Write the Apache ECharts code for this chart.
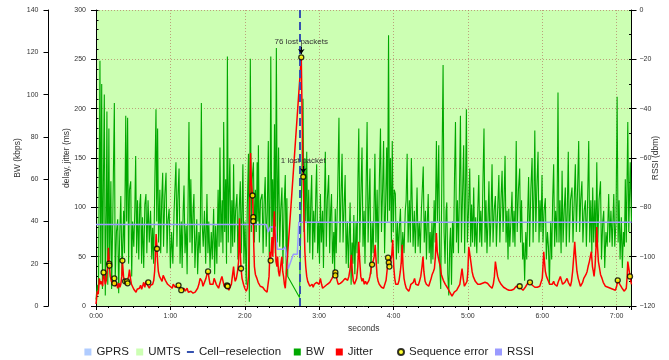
<!DOCTYPE html>
<html><head><meta charset="utf-8">
<script src="https://cdn.jsdelivr.net/npm/echarts@6/dist/echarts.min.js"></script>
<style>html,body{margin:0;padding:0;background:#fff}#c{width:669px;height:360px}</style>
</head><body><div id="c"></div>
<script>
// time in seconds, BW in kbps
const bw = [[0,3],[1,10],[2,6],[3.2,116],[3.8,20],[4.6,105],[5.2,8],[6,60],[6.7,100],[7.5,5],[8.3,45],[8.8,92],[9.5,10],[10.4,84],[11,22],[12,59],[12.6,8],[13.5,40],[14.8,96],[15.5,12],[16.5,35],[17.5,41],[18.3,6],[19,30],[20,52],[21,15],[22.3,45],[23,25],[24,90],[24.7,40],[25.5,89],[26.3,20],[27,55],[28,59],[28.8,14],[29.5,40],[30.5,28],[31.3,45],[32,71],[32.8,25],[33.5,50],[34.5,22],[35.3,48],[36,53],[36.8,20],[37.5,42],[38.5,18],[39.4,48],[40.3,53],[41,25],[42,50],[43,30],[44,45],[45,22],[45.7,37],[46.5,20],[47.5,60],[48.4,93],[49,40],[49.7,84],[50.5,30],[51.5,55],[52.2,25],[53,50],[53.8,63],[54.5,28],[55.5,52],[56.5,63],[57.3,25],[58,40],[59,46],[60,18],[61,35],[62,20],[63,45],[64.5,68],[65.3,28],[66,50],[67,65],[67.8,20],[68.8,40],[69.5,18],[70.3,45],[71,57],[71.8,25],[72.8,38],[73.5,15],[74.3,50],[75,87],[75.8,30],[76.5,60],[77.5,25],[78.3,45],[79,53],[79.8,18],[80.5,30],[81.3,41],[82,15],[83,35],[84,25],[85,96],[85.6,40],
[86.5,28],[87.5,45],[88.5,20],[89.5,53],[90.3,25],[91,40],[92,18],[93,35],[93.8,22],[94.9,46],[95.7,15],[96.5,38],[97.5,20],[98.5,55],[99.3,28],[100,75],[100.8,30],[101.8,50],[102.4,25],[103,87],[103.8,35],[104.6,60],[105.3,20],[106,118],[106.7,30],[107.4,55],[108,70],[108.8,25],[109.6,50],[110.3,28],[111,67],[111.8,30],[112.6,45],[113.7,53],[114.5,22],[115.5,45],[116.4,59],[117.2,25],[118,50],[118.5,67],[119.3,20],[120.2,40],[121.2,10],[122,45],[123,72],[123.7,2],[124.5,117],[125.3,35],[126,60],[127,68],[127.8,30],[128.6,55],[129.3,35],[130,68],[130.6,40],[131,76],[131.8,30],[132.7,50],[134,53],[134.8,25],[135.6,48],[136.5,61],[137.3,28],[138.2,45],[139,78],[139.8,20],[140.5,55],[141,118],[141.8,35],[142.5,60],[143.2,30],[144,86],[144.7,25],[145.5,122],[146.3,30],[147.3,75],[148.2,28],[149,45],[150,56],[150.8,20],[151.8,48],[152.7,62],[153.5,15],[154,51],[154.7,14],[164.2,4],
[165,30],[166,60],[167,98],[167.8,35],[168.5,70],[169.2,40],[170,73],[170.8,30],[171.6,55],[172.5,25],[173.3,50],[174,62],[174.8,22],[175.6,45],[176.5,30],[177.4,55],[178,67],[178.8,25],[179.6,40],[180.3,20],[181,53],[181.8,30],[182.8,45],[183.5,18],[184.3,50],[185,73],[185.8,28],[186.6,50],[187.7,62],[188.5,25],[189.3,45],[190,53],[190.8,20],[191.8,35],[192.5,15],[193,46],[193.8,25],[195,55],[196,89],[196.8,30],[197.6,50],[198.5,72],[199.3,30],[200.2,48],[201,62],[201.8,20],[202.8,40],[203.6,18],[204.4,35],[205,49],[205.8,10],[206.6,30],[207.3,20],[208,43],[208.8,15],[209.8,40],[210.6,25],[211.3,60],[212,84],[212.8,30],[213.6,50],[214.6,75],[215.4,28],[216.3,45],[217,20],[218,60],[218.7,87],[219.5,30],[220.3,50],[221,65],[221.8,15],[222.8,40],[223.6,25],[224.4,50],[225,72],[225.8,30],[226.8,55],[227.6,20],[228.6,60],[229.5,84],[230.3,35],[231.2,55],[232,78],[232.8,25],[233.7,50],[234.5,75],[235.2,40],[236,128],[236.7,45],[237.5,70],[238.3,30],[239,78],[239.8,35],[240.6,55],[241.5,53],[242.3,22],[243.2,40],[244,25],[245,40],[245.6,46],[246.5,20],[247.5,35],[248.5,25],[249.5,45],[250.2,50],[251,72],[251.8,30],[252.8,50],[253.6,30],[254.4,70],
[255.8,28],[256.8,45],[257.6,25],[258.3,40],[259,56],[259.8,28],[260.8,40],[261.6,25],[262.5,45],[264,66],[264.8,30],[265.8,45],[266.6,22],[267.3,40],[268,53],[268.8,25],[269.6,35],[270.3,20],[271,40],[271.8,22],[272.8,50],[273.6,30],[274.6,78],[275.4,40],[276.5,76],[277.3,20],[278.1,8],[279,60],[280,114],[280.8,35],[281.6,20],[282.4,45],[283,49],[283.8,15],[284.6,5],[285.4,30],[286,37],[286.8,10],[287.6,40],[288.4,25],[289.2,60],[290,87],[290.8,30],[291.6,50],[292.4,25],[293.2,55],[294,90],[294.8,30],[295.6,50],[296.6,76],[297.4,25],[298.2,60],[298.8,93],[299.6,30],[300.5,45],[301.5,65],[302.3,28],[303,48],[303.8,30],[304.7,56],[305.5,28],[306.3,42],[307.2,25],[308,45],[308.8,62],[309.6,30],[310.4,45],[311.2,28],[312.2,60],[313,84],[313.8,30],[314.6,50],[315.4,25],[316.2,40],[317,59],[317.8,28],[318.6,40],[319.5,67],[320.3,30],[321.2,45],[322.2,52],[323,28],[324,45],[325,62],[325.8,30],[326.7,50],[327.6,64],[328.4,35],[329.2,50],[330,71],[330.8,30],[331.6,45],[332.4,22],[333,46],[333.8,28],[334.7,40],[335.6,54],[336.4,30],[337.2,45],[338,28],[339,78],[339.8,35],[340.8,55],[341.8,65],
[342.5,30],[343.3,50],[344.2,22],[345,30],[345.8,12],[346.7,35],[347.5,22],[348.3,45],[349,61],[349.8,28],[350.8,55],[351.8,70],[352.6,30],[353.4,55],[354,83],[354.8,35],[355.6,55],[356.6,73],[357.4,30],[358.2,50],[359,35],[359.8,62],[360.6,30],[361.5,45],[362.5,51],[363.3,22],[364.2,35],[365,28],[365.8,10],[366.8,40],[367.6,22],[368.4,50],[369.2,67],[370,28],[370.8,45],[371.8,30],[372.7,101],[373.5,30],[374.3,50],[375.2,25],[376,64],[376.8,30],[377.7,45],[378.6,56],[379.4,28],[380.2,45],[381,73],[381.8,30],[382.8,50],[384,56],[384.8,30],[385.8,50],[386.7,67],[387.5,35],[388.5,55],[389.4,78],[390.2,35],[391,50],[392,59],[392.8,30],[393.8,45],[394.8,50],[395.6,28],[396.6,50],[397.5,78],[398.3,30],[399.2,50],[400,25],[400.7,56],[401.5,30],[402.4,50],[403.2,28],[404,68],[404.8,30],[405.8,50],[407,59],[407.8,22],[408.8,40],[409.6,45],[410.4,18],[411.4,35],[412.4,28],[413.6,53],[414.4,30],[415.4,45],[416.4,28],[417.7,53],[418.5,28],[419.5,40],[420.4,99],[421.2,30],[422,50],[422.8,22],[423.8,42],[424.6,18],[425.5,35],[426.3,28],[427,60],[427.8,30],[429,87],[429.8,35],[431,68],[432,40]];

// time in seconds, jitter in ms
const jitter = [[0,2],[0.5,8],[1,15],[1.8,12],[2.7,28],[3.5,22],[4.3,25],[5.4,20],[5.9,33],[6.7,30],[7.5,22],[8.3,26],[9.4,40],[10,59],[10.7,43],[11.5,30],[12.4,25],[13.4,22],[14.2,26],[14.8,28],[15.6,20],[16.5,24],[17.5,18],[18.5,23],[19.3,19],[20,22],[20.8,30],[21.3,46],[22.2,30],[23,25],[23.5,26],[24.5,21],[25.3,26],[26.3,30],[27,37],[27.8,28],[28.6,22],[29.6,20],[30.5,17],[31.4,19],[32.3,14],[33.2,17],[34,15],[35,18],[36,21],[36.8,17],[37.6,20],[38.5,24],[39.4,19],[40.3,25],[41.2,22],[42.2,24],[43,18],[44,21],[45,19],[45.7,22],[46.6,26],[47.3,35],[47.9,50],[48.5,73],[49.2,58],[49.7,45],[50.3,35],[51.2,30],[52.4,28],[53.3,25],[54.2,31],[55,30],[56,26],[57,28],[57.8,22],[58.8,24],[59.7,20],[60.5,20],[61.5,18],[62.3,22],[63,22],[64,19],[65,21],[66,20],[66.6,21],[67.8,19],[68.8,16],[70,16],[71,18],[72,15],[72.6,16],[73.5,18],[74.5,14],[75.5,16],[76.6,15],[77.5,17],[78.3,13],[79,12],[80,14],[81,16],[82,18],[83,22],[84,28],[84.7,28],[85.5,25],[86.3,20],[86.8,18],[87.8,22],[88.7,28],[89.5,32],[90.4,35],[91.2,28],[92,22],[93,24],[93.5,20],[94.4,22],[95.3,28],[96.2,25],[97,22],[98,20],[98.9,18],[99.7,22],[100.6,26],[101.6,30],[102.5,25],[103.4,20],[104.3,22],[105.2,18],[105.7,21],[106.2,20],[107.2,16],[108.3,18],[109.2,22],[110,30],[111,40],[111.6,30],[112.3,25],[113.2,28],[114.2,35],[115,45],[115.8,89],[116.4,55],[117,38],[117.8,28],[119,22],[120,18],[121.2,15],[122.1,18],[123,30],[123.5,60],[124.2,120],[124.7,155],[125.3,125],[126.3,112],[126.9,88],[127.3,60],[127.8,40],[128.6,32],[129.8,28],[130.8,24],[131.8,22],[132.5,20],[133.5,18],[134.5,19],[135.2,18],[136.2,16],[137.1,15],[138,14],[138.8,16],[139.6,30],[140.3,55],[140.9,46],[141.5,60],[142,70],[142.6,50],[143.3,75],[143.9,96],[144.5,70],[145.2,45],[146,40],[146.5,50],[147.2,35],[148,30],[148.7,28],[149.4,45],[150,50],[150.6,35],[151.3,30],[152,22],[152.7,18],[153.3,20],[165.6,252],[166.2,200],[166.8,150],[167.2,131],[167.8,90],[168.5,55],[169.2,40],[170,30],[170.8,25],[171.6,25],
[172.5,20],[173.4,18],[174.3,22],[175.2,19],[176.1,22],[177,20],[178,24],[179,26],[180,22],[181,28],[182,22],[182.8,18],[183.7,17],[184.7,20],[185.6,19],[186.6,22],[187.7,20],[188.6,24],[189.5,22],[190.4,28],[191.3,30],[192,32],[192.8,36],[193.1,34],[193.6,31],[194.5,26],[195.4,22],[196.2,20],[197.1,23],[198,21],[199,25],[200,25],[201,28],[202,30],[203,26],[204,30],[205,38],[206,52],[206.8,35],[207.6,25],[208.5,22],[209.4,24],[210.3,28],[211.2,40],[212,65],[212.8,45],[213.6,30],[214.6,25],[215.5,28],[216.4,22],[217.4,25],[218.4,22],[219.3,24],[220.2,26],[221,30],[222,38],[222.7,42],[223.5,45],[224.4,50],[225.2,62],[226,45],[226.8,30],[227.6,25],[228.5,22],[229.4,20],[230.3,19],[231.2,18],[232,18],[233,22],[234,26],[235,38],[235.6,49],[236.2,44],[236.7,40],[237.5,40],[238.5,50],[239.4,67],[240.2,40],[241,28],[241.8,22],[242.7,20],[243.6,22],[244.5,26],[245.5,35],[246.3,45],[247,62],[247.7,40],[248.5,28],[249.4,22],[250.3,18],[251.3,16],[252.3,15],[253.2,18],[254,22],[255,22],[256,24],[257,28],[258,22],[259,20],[260,21],[261,25],[262,30],[263,40],[263.8,50],[264.5,35],[265.5,25],[266.5,22],[267.5,20],[268.4,20],[269.4,24],[270.4,28],[271.2,32],[272.2,35],[273,38],[273.8,50],[274.6,74],[275.3,55],[276,50],[276.8,45],[277.8,40],[278.6,32],[279.2,30],[280.2,26],[281,24],[281.8,22],[282.8,20],[283.8,18],[284.5,18],[285.4,14],[286.3,12],[287.2,10],[288.1,12],[289,14],[290,15],[291,16],[292,18],[292.6,18],[293.5,22],[294.4,30],[295.3,38],[296.2,28],[297.2,20],[298.2,22],[299.3,25],[300,35],[300.7,60],[301.3,55],[302,55],[302.7,42],[303.4,35],[304.3,30],[305.2,28],[306,25],[307,24],[308,22],[308.8,20],[309.8,22],[310.8,24],[311.8,23],[312.8,25],[313.8,24],[314.8,22],[315.8,23],[316.8,22],[317.8,20],[318.6,19],[319.5,18],[320.5,22],[321.4,30],[322.2,45],[323,38],[324,30],[325,26],[326,24],[326.8,22],[327.8,20],[328.8,19],[329.7,18],[330.3,18],[331.3,17],[332.3,18],[333.2,16],[334,17],[335,16],[336,18],[337,17],[338,18],[339,20],[339.7,18],[340.7,19],[341.8,20],[342.7,18],[343.6,17],[344.5,16],[345.4,17],[346.3,19],[347.2,21],[348.2,23],[349.2,22],[350.1,24],[351,22],[352,21],[353,20],[354,19],[355,18],[356,19],[357,18],[358,20],[359,22],[360,28],[360.6,40],[361.2,55],[361.8,45],[362.5,35],[363.4,30],[364.2,28],[365,25],[366,22],[367,24],[368,22],[369.2,25],[370,22],[371,20],[371.9,20],[372.8,24],[373.7,26],[374.6,30],[375.5,26],[376.4,22],[377.3,20],[378.2,24],[379.1,26],[380,28],[381,24],[382,22],[382.7,20],[383.6,25],[384.5,35],[385.4,50],[386.2,65],[387,50],[388,35],[389,28],[389.9,24],[390.8,20],[391.7,22],[392.6,24],[393.5,28],[394.4,30],[395.3,32],[396.2,35],[397,40],[398,45],[398.8,50],[399.6,55],[400.5,40],[401.2,35],[401.8,30],[402.6,40],[403.4,60],[404,80],[404.6,60],[405.3,45],[406,40],[407,32],[408.2,28],[409.2,24],[410.2,22],[411,20],[412,21],[413,19],[414,20],[415,18],[416,19],[417,17],[418,18],[419,16],[420,20],[420.9,26],[421.7,28],[422.6,22],[423.5,20],[424.4,18],[425.3,16],[426.2,15],[427,14],[427.8,18],[428.5,30],[429,45],[429.6,40],[430.2,35],[430.8,30],[431.5,25],[432,22]];

// time in seconds, RSSI in dBm
const rssi = [[0,-87],[137.4,-87],[139,-90],[140.6,-88],[144.6,-88],[146.2,-97],[151,-97],[152.7,-96],[155,-105],[159.2,-99],[162.4,-99],[163.6,-86],[432,-86]];

// sequence errors: time in seconds, jitter in ms
const seqErr = [[6.1,34],[10.6,43],[10.8,41],[14.8,28],[14.8,23],[21.3,46],[23.5,25],[25,25],[25.5,23],[42.2,24],[49.2,58],[66.6,21],[68.8,16],[90.4,35],[105.7,21],[106.2,20],[117,38],[126.3,112],[126.9,90],[126.9,86],[140.9,46],[165.6,252],[167.2,131],[193.1,34],[193.1,31],[222.7,42],[235.6,49],[236.2,44],[236.7,40],[341.8,20],[350.1,24],[420.9,26],[430.8,30]];

const cellReselection = [164];
const umtsSpan = [0, 432];
const lostAnnotations = [{t:165.6, from:263, to:255.5, text:'76 lost packets'},{t:167.2, from:142, to:134.5, text:'1 lost packet'}];

const FONT = 'Liberation Sans';
const txt = '#222';
const gridCol = 'rgba(175,100,85,0.6)';
const chart = echarts.init(document.getElementById('c'), null, {renderer:'canvas'});

function legendAt(name, left, icon, w, h) {
  const d = {name};
  if (icon) d.icon = icon;
  return {data:[d], left, top:346, itemWidth:w || 7, itemHeight:h || 7, itemGap:0, padding:0,
    textStyle:{fontFamily:FONT, fontSize:11.5, color:txt}, selectedMode:false};
}

const option = {
  animation:false,
  backgroundColor:'#fff',
  textStyle:{fontFamily:FONT},
  legend:[
    legendAt('GPRS', 84.4, 'rect'),
    legendAt('UMTS', 136.2, 'rect'),
    legendAt('Cell\u2212reselection', 186.9, 'rect', 7, 2),
    legendAt('BW', 293.8, 'rect'),
    legendAt('Jitter', 335.8, 'rect'),
    legendAt('Sequence error', 397, 'circle', 6, 6),
    legendAt('RSSI', 495, 'rect')
  ],
  grid:{left:96, right:37.5, top:10, bottom:54, outerBoundsMode:'none', containLabel:false},
  xAxis:{type:'value', min:0, max:432, interval:60,
    axisLine:{show:true, onZero:false, lineStyle:{color:'#000', width:1}},
    axisTick:{show:true, length:4, lineStyle:{color:'#000'}},
    minorTick:{show:true, splitNumber:6, length:2, lineStyle:{color:'#000'}},
    axisLabel:{fontSize:7, color:'#333', margin:7, fontFamily:FONT,
      formatter:v => (v % 60 === 0) ? Math.floor(v/60)+':'+'00' : ''},
    splitLine:{show:true, lineStyle:{color:gridCol, type:[1,2], width:1}},
    name:'seconds', nameLocation:'middle', nameGap:18, nameMoveOverlap:false,
    nameTextStyle:{fontSize:8.5, color:'#333', fontFamily:FONT}},
  yAxis:[
    {type:'value', position:'left', min:0, max:300, interval:50,
      axisLine:{show:true, lineStyle:{color:'#000'}},
      axisTick:{show:true, length:5, lineStyle:{color:'#000'}},
      axisLabel:{fontSize:7, color:'#333', margin:10, fontFamily:FONT},
      splitLine:{show:true, lineStyle:{color:gridCol, type:[1,2], width:1}},
      name:'delay, jitter (ms)', nameLocation:'middle', nameGap:25, nameMoveOverlap:false,
      nameTextStyle:{fontSize:8.5, color:'#333', fontFamily:FONT}},
    {type:'value', position:'left', offset:47.5, min:0, max:140, interval:20,
      axisLine:{show:true, lineStyle:{color:'#000'}},
      axisTick:{show:true, length:5, lineStyle:{color:'#000'}},
      axisLabel:{fontSize:7, color:'#333', margin:10, fontFamily:FONT},
      splitLine:{show:false},
      name:'BW (kbps)', nameLocation:'middle', nameGap:26.5, nameMoveOverlap:false,
      nameTextStyle:{fontSize:8.5, color:'#333', fontFamily:FONT}},
    {type:'value', position:'right', min:-120, max:0, interval:20,
      axisLine:{show:true, lineStyle:{color:'#000'}},
      axisTick:{show:true, length:5, lineStyle:{color:'#000'}},
      axisLabel:{fontSize:7, color:'#333', margin:8, fontFamily:FONT,
        formatter:v => v < 0 ? '\u2212' + Math.abs(v) : String(v)},
      splitLine:{show:false},
      name:'RSSI (dbm)', nameLocation:'middle', nameGap:20, nameMoveOverlap:false, nameRotate:90,
      nameTextStyle:{fontSize:8.5, color:'#333', fontFamily:FONT}},
    {type:'value', position:'left', min:0, max:300, interval:10,
      axisLine:{show:false}, axisLabel:{show:false}, splitLine:{show:false},
      axisTick:{show:true, inside:true, length:2.5, lineStyle:{color:'#000'}}},
    {type:'value', position:'right', min:-120, max:0, interval:10,
      axisLine:{show:false}, axisLabel:{show:false}, splitLine:{show:false},
      axisTick:{show:true, inside:true, length:2.5, lineStyle:{color:'#000'}}}
  ],
  series:[
    {name:'GPRS', type:'line', data:[], symbol:'none', itemStyle:{color:'#b0ccff'}, lineStyle:{color:'#b0ccff'}},
    {name:'UMTS', type:'line', data:[], symbol:'none', z:-5,
      itemStyle:{color:'#ccffb3'}, lineStyle:{color:'#ccffb3'},
      markArea:{silent:true, z:-5, itemStyle:{color:'#ccffb3'},
        data:[[{xAxis:umtsSpan[0]},{xAxis:umtsSpan[1]}]]}},
    {name:'BW', type:'line', yAxisIndex:1, data:bw, symbol:'none', z:2,
      itemStyle:{color:'#00a800'}, lineStyle:{color:'#00a800', width:1.1}},
    {name:'RSSI', type:'line', yAxisIndex:2, data:rssi, symbol:'none', z:3,
      itemStyle:{color:'#9a9aff'}, lineStyle:{color:'#9a9aff', width:1.5}},
    {name:'Jitter', type:'line', yAxisIndex:0, data:jitter, symbol:'none', z:4,
      itemStyle:{color:'#ff0000'}, lineStyle:{color:'#ff0000', width:1.5}},
    {name:'Cell\u2212reselection', type:'line', data:[], symbol:'none', z:5,
      itemStyle:{color:'#3552b0'}, lineStyle:{color:'#3552b0', width:2},
      markLine:{silent:true, symbol:['none','none'], label:{show:false},
        lineStyle:{color:'#3552b0', width:2, type:[8,4]},
        data:cellReselection.map(t => ({xAxis:t}))}},
    {name:'Sequence error', type:'scatter', yAxisIndex:0, data:seqErr, symbol:'circle', symbolSize:5, z:6,
      itemStyle:{color:'#ffff00', borderColor:'#000', borderWidth:1.3},
      markLine:{silent:true, symbol:['none','arrow'], symbolSize:5,
        lineStyle:{color:'#000', width:1, type:'solid'},
        label:{show:true, position:'start', distance:1, fontSize:8, color:'#333', fontFamily:FONT},
        data:lostAnnotations.map(a => [
          {coord:[a.t, a.from], label:{formatter:a.text}},
          {coord:[a.t, a.to]}
        ])}}
  ]
};
chart.setOption(option);
</script>
</body></html>
